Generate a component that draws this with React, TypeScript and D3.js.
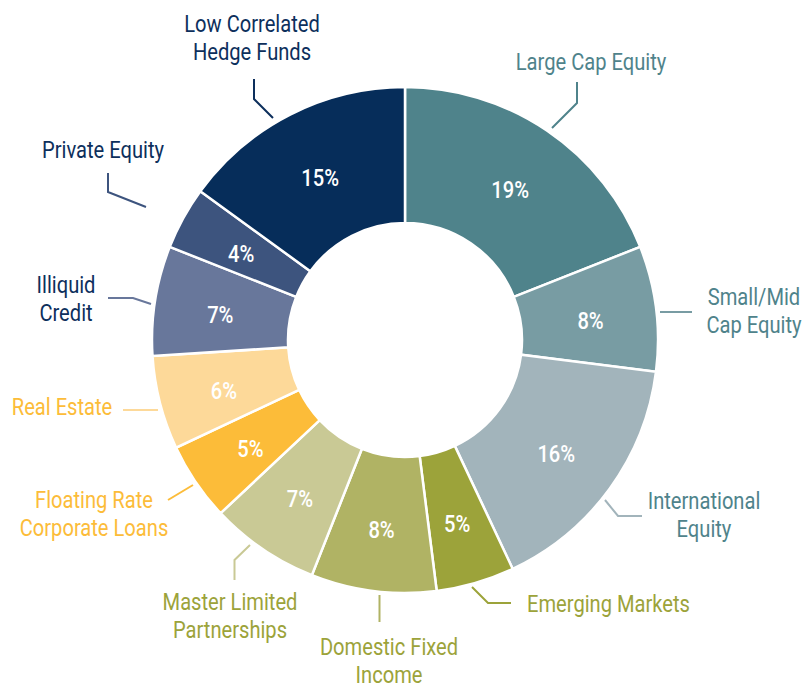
import React from "react";
import * as d3 from "d3";

const categories = [
  "Large Cap Equity",
  "Small/Mid Cap Equity",
  "International Equity",
  "Emerging Markets",
  "Domestic Fixed Income",
  "Master Limited Partnerships",
  "Floating Rate Corporate Loans",
  "Real Estate",
  "Illiquid Credit",
  "Private Equity",
  "Low Correlated Hedge Funds",
];
const values = [19, 8, 16, 5, 8, 7, 5, 6, 7, 4, 15];
const sliceColors = [
  "#4f838b",
  "#789ca3",
  "#a2b4bb",
  "#9ca33a",
  "#b0b364",
  "#c9c995",
  "#fcbc39",
  "#fdd999",
  "#68779b",
  "#3d547e",
  "#062d5a",
];
const labelLines = [
  ["Large Cap Equity"],
  ["Small/Mid", "Cap Equity"],
  ["International", "Equity"],
  ["Emerging Markets"],
  ["Domestic Fixed", "Income"],
  ["Master Limited", "Partnerships"],
  ["Floating Rate", "Corporate Loans"],
  ["Real Estate"],
  ["Illiquid", "Credit"],
  ["Private Equity"],
  ["Low Correlated", "Hedge Funds"],
];
const textColors = [
  "#4f838b", "#4f838b", "#4f838b", "#9ca33a", "#9ca33a", "#9ca33a",
  "#fcbc39", "#fcbc39", "#0d2f5c", "#0d2f5c", "#0d2f5c",
];
const leaderColors = [
  "#4f838b", "#789ca3", "#a2b4bb", "#9ca33a", "#b0b364", "#c9c995",
  "#fcbc39", "#fdd999", "#68779b", "#3d547e", "#0d2f5c",
];

// layout of annotation text (anchor x, first baseline y, text-anchor)
const labelPos: [number, number, string][] = [
  [591, 70, "middle"],
  [754, 305, "middle"],
  [704, 509, "middle"],
  [527, 612, "start"],
  [389, 654.5, "middle"],
  [230, 610, "middle"],
  [94, 508, "middle"],
  [62, 415, "middle"],
  [66, 293, "middle"],
  [103, 158, "middle"],
  [252, 32, "middle"],
];
const leaderPts: [number, number][][] = [
  [[577, 82], [577, 103], [552, 128]],
  [[660, 312], [692, 312]],
  [[605, 500], [618, 516], [642, 516]],
  [[472, 587], [488, 603], [511, 603]],
  [[379.5, 595], [379.5, 622]],
  [[250, 545], [234.5, 560], [234.5, 580]],
  [[193, 485], [168, 500]],
  [[123, 410], [158, 410]],
  [[108, 298], [133, 298], [151, 304]],
  [[108, 173], [108, 192], [146, 207]],
  [[254, 79], [254, 99], [273, 118]],
];

const W = 803;
const H = 684;
const cx = 405;
const cy = 340;
const outerR = 253;
const innerR = 117;
const FONT = "Roboto, 'Liberation Sans', sans-serif";
const SX = 0.875;
const FS = 23;

export default function App() {
  const pie = d3.pie<number>().sort(null).value((d) => d);
  const arcs = pie(values);
  const arc = d3.arc<d3.PieArcDatum<number>>().innerRadius(innerR).outerRadius(outerR);
  const labelArc = d3.arc<d3.PieArcDatum<number>>().innerRadius(187).outerRadius(187);
  const line = d3.line();
  return (
    <div style={{ position: "absolute", left: 0, top: 0 }}>
      <svg width={W} height={H} style={{ display: "block", background: "#fff" }} fontFamily={FONT}>
        <g transform={`translate(${cx},${cy})`}>
          {arcs.map((a, i) => (
            <path key={i} d={arc(a) || ""} fill={sliceColors[i]} stroke="#fff" strokeWidth={2.5} />
          ))}
          {arcs.map((a, i) => {
            const [x, y] = labelArc.centroid(a);
            return (
              <g key={i} transform={`translate(${x},${y + 4}) scale(${SX},1)`}>
                <text dy="0.36em" textAnchor="middle" fill="#fff" fontSize={FS} fontWeight={500}>
                  {values[i]}%
                </text>
              </g>
            );
          })}
        </g>
        {leaderPts.map((pts, i) => (
          <path key={i} d={line(pts) || ""} fill="none" stroke={leaderColors[i]} strokeWidth={2} />
        ))}
        {labelLines.map((lines, i) => (
          <g key={i} transform={`translate(${labelPos[i][0]},${labelPos[i][1]}) scale(${SX},1)`}>
            <text textAnchor={labelPos[i][2]} fill={textColors[i]} fontSize={FS}>
              {lines.map((t, j) => (
                <tspan key={j} x={0} y={j * 28.5}>
                  {t}
                </tspan>
              ))}
            </text>
          </g>
        ))}
      </svg>
    </div>
  );
}
